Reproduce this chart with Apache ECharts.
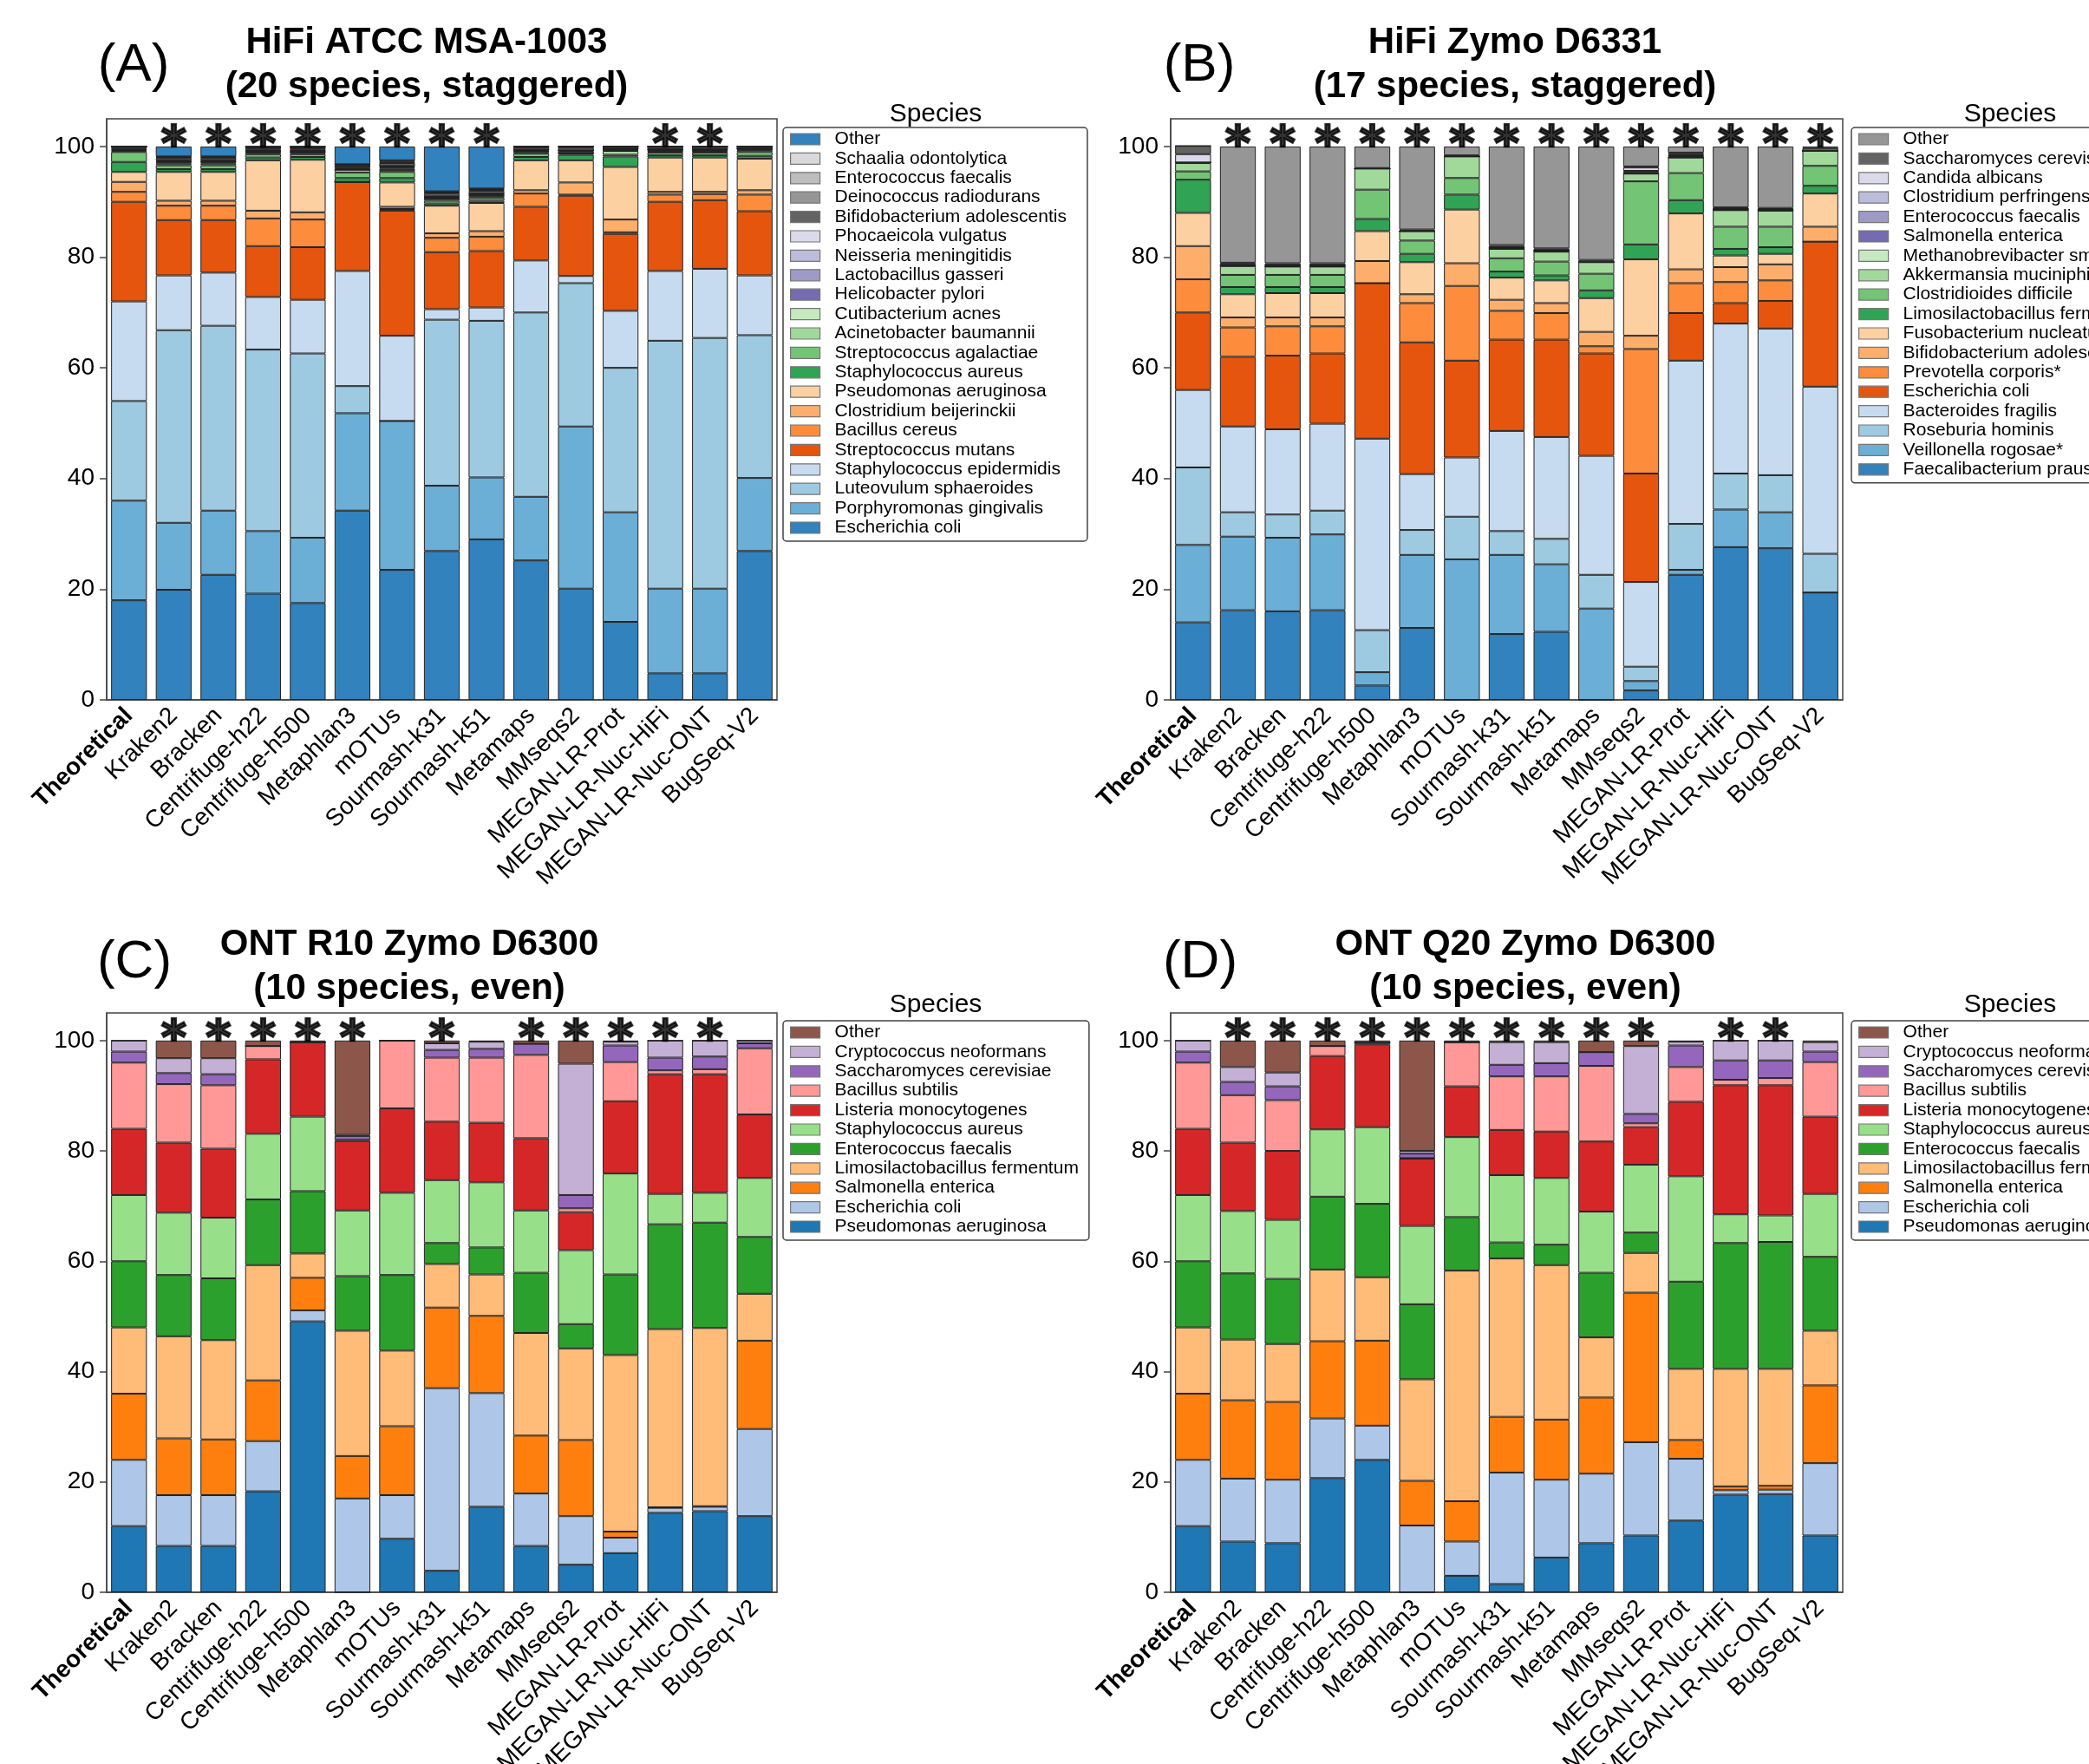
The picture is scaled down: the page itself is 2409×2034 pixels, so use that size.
<!DOCTYPE html>
<html>
<head>
<meta charset="utf-8">
<script src="https://cdn.jsdelivr.net/npm/echarts@6/dist/echarts.min.js"></script>
<style>
html, body { margin: 0; padding: 0; background: #fff; }
#chart { width: 2409px; height: 2034px; }
</style>
</head>
<body>
<div id="chart"></div>
<script>
var methods = ['Theoretical', 'Kraken2', 'Bracken', 'Centrifuge-h22', 'Centrifuge-h500', 'Metaphlan3', 'mOTUs',
    'Sourmash-k31', 'Sourmash-k51', 'Metamaps', 'MMseqs2', 'MEGAN-LR-Prot', 'MEGAN-LR-Nuc-HiFi', 'MEGAN-LR-Nuc-ONT', 'BugSeq-V2'];
var yTicks = [0, 20, 40, 60, 80, 100];

// (A) HiFi ATCC MSA-1003 - species listed bottom of stack first
var speciesA = ['Escherichia coli', 'Porphyromonas gingivalis', 'Luteovulum sphaeroides', 'Staphylococcus epidermidis',
    'Streptococcus mutans', 'Bacillus cereus', 'Clostridium beijerinckii', 'Pseudomonas aeruginosa', 'Staphylococcus aureus',
    'Streptococcus agalactiae', 'Acinetobacter baumannii', 'Cutibacterium acnes', 'Helicobacter pylori', 'Lactobacillus gasseri',
    'Neisseria meningitidis', 'Phocaeicola vulgatus', 'Bifidobacterium adolescentis', 'Deinococcus radiodurans',
    'Enterococcus faecalis', 'Schaalia odontolytica', 'Other'];
var valuesA = [
    [18, 19.9, 22.6, 19.2, 17.5, 34.2, 23.5, 26.9, 29.0, 25.2, 20.1, 14.1, 4.8, 4.8, 26.9],
    [18, 12.1, 11.6, 11.3, 11.8, 17.6, 26.9, 11.8, 11.2, 11.5, 29.3, 19.8, 15.3, 15.3, 13.2],
    [18, 34.8, 33.4, 32.8, 33.3, 4.9, 0, 30.0, 28.3, 33.3, 25.9, 26.1, 44.8, 45.3, 25.8],
    [18, 9.9, 9.6, 9.5, 9.7, 20.8, 15.4, 1.9, 2.4, 9.4, 1.3, 10.3, 12.6, 12.5, 10.8],
    [18, 10.0, 9.5, 9.2, 9.5, 16.1, 22.6, 10.3, 10.2, 9.7, 14.5, 13.9, 12.5, 12.4, 11.6],
    [1.8, 2.6, 2.6, 5.0, 5.0, 0, 0.3, 2.6, 2.6, 2.4, 0.2, 0.3, 1.3, 1.1, 3.0],
    [1.8, 0.9, 0.9, 1.4, 1.3, 0, 0.4, 0.8, 1.0, 0.6, 2.2, 2.3, 0.5, 0.4, 0.8],
    [1.8, 5.2, 5.2, 9.1, 9.5, 0, 4.4, 5.0, 5.1, 5.4, 4.0, 9.5, 6.2, 6.2, 5.7],
    [1.8, 0.5, 0.5, 0.5, 0.5, 0.7, 0.8, 0.4, 0.4, 0.6, 1.0, 1.9, 0.4, 0.4, 0.5],
    [1.8, 0.7, 0.7, 0.6, 0.5, 1.0, 1.1, 0.5, 0.5, 0.6, 0.2, 0.3, 0.5, 0.5, 0.7],
    [0.18, 0.3, 0.3, 0.3, 0.3, 0.5, 0.3, 0.3, 0.3, 0.3, 0.1, 0.7, 0.2, 0.2, 0.3],
    [0.18, 0.2, 0.2, 0.1, 0.1, 0, 0.1, 0.1, 0.1, 0.1, 0, 0.1, 0.1, 0.1, 0.1],
    [0.18, 0.1, 0.1, 0.1, 0.1, 0.1, 0.2, 0.1, 0.1, 0.1, 0.3, 0.1, 0.1, 0.1, 0.1],
    [0.18, 0.1, 0.1, 0.1, 0.1, 0.2, 0.2, 0.1, 0.1, 0.1, 0.1, 0.1, 0.1, 0.1, 0.1],
    [0.18, 0.1, 0.1, 0.1, 0.1, 0.2, 0.2, 0.1, 0.1, 0.1, 0.1, 0.1, 0.1, 0.1, 0],
    [0.02, 0.1, 0.1, 0.1, 0.1, 0, 0.1, 0.1, 0.1, 0, 0, 0, 0, 0, 0],
    [0.02, 0.4, 0.4, 0.3, 0.3, 0.3, 0.5, 0.5, 0.5, 0.4, 0.5, 0.3, 0.4, 0.4, 0.3],
    [0.02, 0.1, 0.1, 0.1, 0.1, 0.1, 0.2, 0.2, 0.2, 0.1, 0.1, 0.1, 0.1, 0.1, 0.1],
    [0.02, 0.1, 0.1, 0.1, 0.1, 0.1, 0.2, 0.1, 0.1, 0.1, 0.1, 0, 0, 0, 0],
    [0.02, 0.1, 0.1, 0.1, 0.1, 0, 0.1, 0.1, 0.1, 0, 0, 0, 0, 0, 0],
    [0, 1.8, 1.8, 0, 0, 3.2, 2.5, 8.1, 7.6, 0, 0, 0, 0, 0, 0]
];
var starsA = [0, 1, 1, 1, 1, 1, 1, 1, 1, 0, 0, 0, 1, 1, 0];

// (B) HiFi Zymo D6331
var speciesB = ['Faecalibacterium prausnitzii', 'Veillonella rogosae*', 'Roseburia hominis', 'Bacteroides fragilis',
    'Escherichia coli', 'Prevotella corporis*', 'Bifidobacterium adolescentis', 'Fusobacterium nucleatum',
    'Limosilactobacillus fermentum', 'Clostridioides difficile', 'Akkermansia muciniphila', 'Methanobrevibacter smithii',
    'Salmonella enterica', 'Enterococcus faecalis', 'Clostridium perfringens', 'Candida albicans',
    'Saccharomyces cerevisiae', 'Other'];
var valuesB = [
    [14, 16.2, 16.0, 16.2, 2.6, 13.0, 0, 11.9, 12.3, 0, 1.7, 22.6, 27.6, 27.4, 19.4],
    [14, 13.3, 13.3, 13.7, 2.4, 13.2, 25.4, 14.3, 12.2, 16.5, 1.7, 0.9, 6.8, 6.5, 0],
    [14, 4.4, 4.2, 4.3, 7.6, 4.5, 7.7, 4.3, 4.6, 6.1, 2.6, 8.3, 6.5, 6.7, 7.0],
    [14, 15.5, 15.4, 15.7, 34.6, 10.1, 10.7, 18.1, 18.4, 21.5, 15.3, 29.5, 27.1, 26.5, 30.2],
    [14, 12.6, 13.3, 12.7, 28.1, 23.8, 17.5, 16.5, 17.6, 18.5, 19.6, 8.6, 3.7, 5.0, 26.2],
    [6, 5.3, 5.3, 4.9, 0, 7.1, 13.5, 5.2, 4.8, 1.3, 22.5, 5.4, 3.8, 3.7, 0],
    [6, 1.8, 1.6, 1.6, 4.0, 1.6, 4.1, 2.0, 1.8, 2.6, 2.4, 2.5, 2.7, 2.9, 2.7],
    [6, 4.2, 4.4, 4.4, 5.4, 5.8, 9.7, 4.0, 4.1, 6.1, 13.8, 10.1, 2.1, 1.9, 6.0],
    [6, 1.3, 1.1, 1.1, 2.2, 1.5, 2.7, 1.1, 0.9, 1.4, 2.7, 2.4, 1.2, 1.2, 1.4],
    [1.5, 2.2, 2.2, 2.2, 5.3, 2.4, 3.0, 2.4, 2.5, 3.0, 11.4, 4.9, 4.0, 3.7, 3.6],
    [1.5, 1.6, 1.5, 1.5, 3.8, 1.7, 3.9, 1.7, 1.8, 2.1, 1.4, 2.8, 3.0, 2.9, 2.7],
    [0.1, 0, 0, 0, 0, 0, 0, 0, 0, 0, 0, 0, 0, 0, 0],
    [0.01, 0.1, 0.1, 0.1, 0, 0, 0, 0.1, 0.1, 0, 0.1, 0.1, 0.1, 0.1, 0],
    [0.001, 0.1, 0.1, 0.1, 0, 0, 0, 0.1, 0.1, 0, 0.2, 0.2, 0.1, 0.1, 0],
    [0.0001, 0, 0, 0, 0, 0, 0, 0, 0, 0, 0.2, 0.1, 0, 0, 0],
    [1.5, 0.1, 0.1, 0.1, 0, 0.1, 0, 0.1, 0.1, 0.1, 0.6, 0.2, 0.1, 0.1, 0],
    [1.5, 0.3, 0.3, 0.3, 0.1, 0.2, 0.2, 0.4, 0.3, 0.3, 0.2, 0.3, 0.2, 0.2, 0.5],
    [0, 21.0, 21.1, 21.1, 3.9, 15.0, 1.6, 17.8, 18.4, 20.5, 3.6, 1.1, 11.0, 11.1, 0.3]
];
var starsB = [0, 1, 1, 1, 1, 1, 1, 1, 1, 1, 1, 1, 1, 1, 1];

// (C) ONT R10 Zymo D6300
var speciesCD = ['Pseudomonas aeruginosa', 'Escherichia coli', 'Salmonella enterica', 'Limosilactobacillus fermentum',
    'Enterococcus faecalis', 'Staphylococcus aureus', 'Listeria monocytogenes', 'Bacillus subtilis',
    'Saccharomyces cerevisiae', 'Cryptococcus neoformans', 'Other'];
var valuesC = [
    [12, 8.4, 8.4, 18.3, 49.1, 0, 9.7, 3.9, 15.5, 8.4, 5.0, 7.1, 14.4, 14.7, 13.8],
    [12, 9.2, 9.2, 9.1, 2.0, 17.0, 7.9, 33.1, 20.6, 9.5, 8.8, 2.8, 0.9, 0.8, 15.8],
    [12, 10.3, 10.1, 11.0, 5.9, 7.7, 12.5, 14.6, 14.0, 10.5, 13.8, 1.1, 0.1, 0.1, 16.0],
    [12, 18.5, 18.0, 20.9, 4.4, 22.7, 13.7, 7.9, 7.5, 18.6, 16.6, 32.0, 32.3, 32.3, 8.5],
    [12, 11.1, 11.2, 11.9, 11.3, 9.9, 13.7, 3.8, 4.9, 10.9, 4.4, 14.6, 19.0, 19.1, 10.3],
    [12, 11.3, 11.0, 11.9, 13.5, 11.9, 14.9, 11.4, 11.8, 11.3, 13.4, 18.3, 5.5, 5.4, 10.7],
    [12, 12.7, 12.5, 13.5, 13.5, 12.6, 15.3, 10.6, 10.8, 13.1, 6.9, 13.1, 21.7, 21.5, 11.5],
    [12, 10.6, 11.5, 2.4, 0, 0.2, 12.3, 11.6, 11.8, 15.1, 0.7, 7.1, 0.7, 0.9, 12.0],
    [2, 2.0, 2.0, 0, 0, 0.7, 0, 1.4, 1.6, 2.0, 2.4, 3.0, 2.3, 2.3, 0.9],
    [2, 2.7, 2.9, 0, 0, 0.2, 0, 1.2, 1.3, 0, 23.8, 0.7, 3.1, 2.9, 0.5],
    [0, 3.2, 3.2, 1.0, 0.3, 17.1, 0, 0.5, 0.2, 0.6, 4.2, 0.2, 0, 0, 0]
];
var starsC = [0, 1, 1, 1, 1, 1, 0, 1, 0, 1, 1, 1, 1, 1, 0];

// (D) ONT Q20 Zymo D6300
var valuesD = [
    [12, 9.2, 8.9, 20.7, 24.0, 0, 3.0, 1.5, 6.3, 8.9, 10.3, 13.0, 17.7, 17.8, 10.3],
    [12, 11.4, 11.5, 10.8, 6.2, 12.1, 6.2, 20.2, 14.1, 12.6, 16.9, 11.2, 0.8, 0.8, 13.1],
    [12, 14.2, 14.1, 14.0, 15.4, 8.1, 7.3, 10.1, 10.9, 13.8, 27.1, 3.4, 0.7, 0.7, 14.1],
    [12, 11.0, 10.5, 13.0, 11.5, 18.4, 41.8, 28.7, 28.0, 10.9, 7.2, 12.9, 21.3, 21.2, 9.9],
    [12, 12.0, 11.8, 13.2, 13.3, 13.6, 9.7, 2.9, 3.7, 11.7, 3.7, 15.8, 22.8, 23.0, 13.4],
    [12, 11.3, 10.7, 12.2, 13.9, 14.2, 14.5, 12.2, 12.1, 11.1, 12.3, 19.1, 5.2, 4.8, 11.4],
    [12, 12.4, 12.5, 13.3, 15.0, 12.2, 9.2, 8.2, 8.4, 12.7, 6.8, 13.5, 23.4, 23.6, 14.0],
    [12, 8.6, 9.2, 1.8, 0.3, 0.1, 8.0, 9.7, 10.0, 13.7, 0.7, 6.3, 1.0, 1.3, 9.9],
    [2, 2.4, 2.5, 0, 0, 0.8, 0, 2.1, 2.4, 2.5, 1.7, 3.9, 3.5, 3.2, 1.9],
    [2, 2.7, 2.5, 0, 0, 0.5, 0, 4.1, 3.8, 0, 12.3, 0.7, 3.6, 3.6, 1.7],
    [0, 4.8, 5.8, 1.0, 0.4, 20.0, 0.3, 0.3, 0.3, 2.1, 1.0, 0.2, 0, 0, 0.3]
];
var starsD = [0, 1, 1, 1, 1, 1, 1, 1, 1, 1, 1, 0, 1, 1, 0];

var tab20c = ['#3182bd', '#6baed6', '#9ecae1', '#c6dbef', '#e6550d', '#fd8d3c', '#fdae6b', '#fdd0a2',
    '#31a354', '#74c476', '#a1d99b', '#c7e9c0', '#756bb1', '#9e9ac8', '#bcbddc', '#dadaeb',
    '#636363', '#969696', '#bdbdbd', '#d9d9d9'];
var tab20 = ['#1f77b4', '#aec7e8', '#ff7f0e', '#ffbb78', '#2ca02c', '#98df8a', '#d62728', '#ff9896',
    '#9467bd', '#c5b0d5', '#8c564b', '#c49c94'];

var font = "'Liberation Sans', Arial, Helvetica, sans-serif";

var panels = [
    { id: 'A', title: 'HiFi ATCC MSA-1003\n(20 species, staggered)', species: speciesA, values: valuesA, stars: starsA,
      palette: tab20c, grid: { left: 123, top: 137, width: 773, height: 670 }, legend: { left: 903, top: 147 }, legPadR: 24,
      titleX: 492, titleY: 75, labelX: 154, labelY: 76, legTitleX: 1079, legTitleY: 132 },
    { id: 'B', title: 'HiFi Zymo D6331\n(17 species, staggered)', species: speciesB, values: valuesB, stars: starsB,
      palette: tab20c, grid: { left: 1350, top: 137, width: 775, height: 670 }, legend: { left: 2135, top: 147 }, legPadR: 24,
      titleX: 1747, titleY: 75, labelX: 1383, labelY: 76, legTitleX: 2318, legTitleY: 132 },
    { id: 'C', title: 'ONT R10 Zymo D6300\n(10 species, even)', species: speciesCD, values: valuesC, stars: starsC,
      palette: tab20, grid: { left: 123, top: 1168, width: 773, height: 668 }, legend: { left: 903, top: 1177 }, legPadR: 12,
      titleX: 472, titleY: 1115, labelX: 155, labelY: 1110, legTitleX: 1079, legTitleY: 1159 },
    { id: 'D', title: 'ONT Q20 Zymo D6300\n(10 species, even)', species: speciesCD, values: valuesD, stars: starsD,
      palette: tab20, grid: { left: 1350, top: 1168, width: 775, height: 668 }, legend: { left: 2135, top: 1177 }, legPadR: 12,
      titleX: 1759, titleY: 1115, labelX: 1384, labelY: 1110, legTitleX: 2318, legTitleY: 1159 }
];

var chart = echarts.init(document.getElementById('chart'));

var grids = [], xAxes = [], yAxes = [], legends = [], series = [], graphics = [];
var frame = '#444';

panels.forEach(function (p, k) {
    grids.push(Object.assign({ show: true, borderColor: frame, borderWidth: 1.5, outerBoundsMode: 'none' }, p.grid));
    xAxes.push({
        type: 'category', gridIndex: k, data: methods,
        axisLine: { lineStyle: { color: frame, width: 1.5 } },
        axisTick: { alignWithLabel: true, length: 8, lineStyle: { color: frame, width: 1.5 } },
        axisLabel: {
            interval: 0, rotate: 45, margin: 14, fontSize: 28, color: '#000', fontFamily: font,
            formatter: function (v, i) { return i === 0 ? '{b|' + v + '}' : v; },
            rich: { b: { fontWeight: 'bold', fontSize: 28, fontFamily: font, color: '#000' } }
        }
    });
    yAxes.push({
        type: 'value', gridIndex: k, min: 0, max: 105,
        splitLine: { show: false },
        axisLine: { show: true, lineStyle: { color: frame, width: 1.5 } },
        axisTick: { show: true, length: 8, customValues: yTicks, lineStyle: { color: frame, width: 1.5 } },
        axisLabel: { customValues: yTicks, fontSize: 28, margin: 14, color: '#000', fontFamily: font }
    });

    p.species.forEach(function (name, i) {
        series.push({
            name: p.id + ':' + name, type: 'bar', stack: 'stack' + p.id,
            xAxisIndex: k, yAxisIndex: k, barWidth: '80%',
            data: p.values[i],
            itemStyle: { color: p.palette[i % p.palette.length], borderColor: '#222', borderWidth: 1 },
            emphasis: { disabled: true }
        });
    });

    series.push({
        type: 'scatter', xAxisIndex: k, yAxisIndex: k, symbolSize: 1, z: 10,
        itemStyle: { color: 'rgba(0,0,0,0)' },
        data: methods.map(function (m, i) { return p.stars[i] ? [i, 99.9] : null; }).filter(Boolean),
        label: { show: true, position: 'inside', formatter: '*', fontSize: 56, fontWeight: 'bold', color: '#000',
                 textBorderColor: '#000', textBorderWidth: 2.5, fontFamily: "'DejaVu Sans', sans-serif" },
        silent: true
    });

    legends.push({
        type: 'plain', orient: 'vertical', left: p.legend.left, top: p.legend.top,
        data: p.species.map(function (n) { return p.id + ':' + n; }).reverse(),
        formatter: function (name) { return name.slice(2); },
        icon: 'rect', itemWidth: 34, itemHeight: 13, itemGap: 1.4,
        itemStyle: { borderColor: '#777', borderWidth: 1.2 },
        textStyle: { fontSize: 21, lineHeight: 21, color: '#000', fontFamily: font, padding: [0, 0, 0, 12] },
        borderColor: frame, borderWidth: 1.5, borderRadius: 4, padding: [3, p.legPadR, 5, 8],
        selectedMode: false
    });

    graphics.push({
        type: 'text', x: p.titleX, y: p.titleY,
        style: { text: p.title, fontSize: 42, fontWeight: 'bold', fontFamily: font, fill: '#000',
                 align: 'center', verticalAlign: 'middle', lineHeight: 51 }
    });
    graphics.push({
        type: 'text', x: p.labelX, y: p.labelY,
        style: { text: '(' + p.id + ')', fontSize: 62, fontFamily: font, fill: '#000', align: 'center', verticalAlign: 'middle' }
    });
    graphics.push({
        type: 'text', x: p.legTitleX, y: p.legTitleY,
        style: { text: 'Species', fontSize: 30, fontFamily: font, fill: '#000', align: 'center', verticalAlign: 'middle' }
    });
});

var option = {
    backgroundColor: '#fff',
    animation: false,
    textStyle: { fontFamily: font },
    grid: grids,
    xAxis: xAxes,
    yAxis: yAxes,
    legend: legends,
    series: series,
    graphic: graphics
};

chart.setOption(option);
</script>
</body>
</html>
